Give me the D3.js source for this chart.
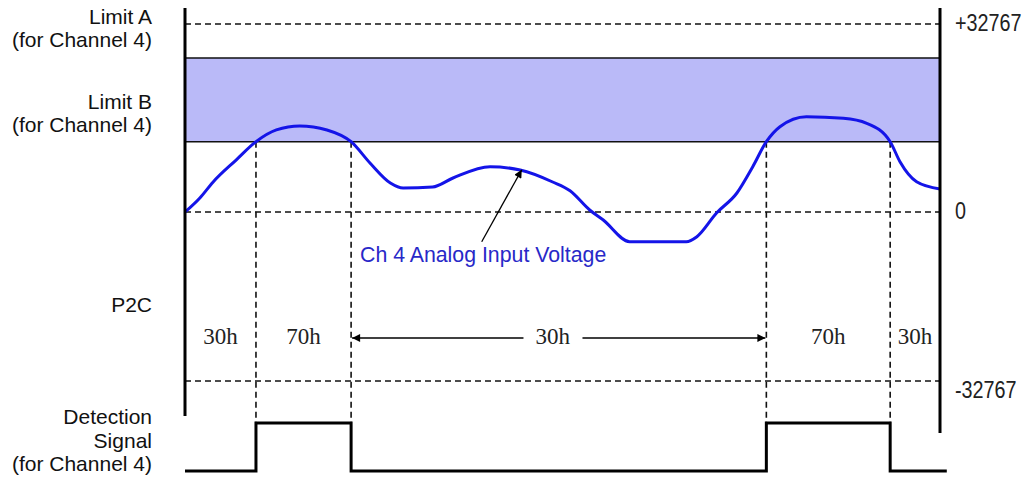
<!DOCTYPE html>
<html>
<head>
<meta charset="utf-8">
<script src="https://cdn.jsdelivr.net/npm/d3@7"></script>
<style>
  html, body { margin: 0; padding: 0; background: #fff; }
  svg { display: block; }
</style>
</head>
<body>
<svg id="chart" width="1031" height="479"></svg>
<script>
// Sample times (0–100, arbitrary units) and Ch 4 analog input readings
const timeSteps = [0, 2, 3.7, 6.8, 9.4, 12.1, 15.2, 18.8, 22.0, 24.5, 27.2, 28.9, 32.8, 35.5,
  40.4, 44.4, 48.7, 51.0, 53.6, 55.4, 58.9, 66.4, 67.8, 70.4, 73.1, 75.2, 77.0, 78.8,
  82.3, 87.2, 90.3, 93.4, 94.7, 96.9, 100];
const voltage = [0, 2500, 5200, 9100, 12250, 14300, 15000, 14300, 12250, 8540, 5055, 4183,
  4357, 5926, 7896, 7320, 5229, 3700, 349, -1551, -5759, -5759, -4789, -200, 3312, 7896,
  12250, 14868, 16610, 16331, 15460, 12250, 8767, 5281, 4009];

// Alarm limits for channel 4
const limitA = 26850;
const limitB = 12250;

// Times at which the input crosses Limit B
const crossings = [9.4, 22.0, 77.0, 93.4];

// P2C codes for each interval between crossings
const p2cCodes = ["30h", "70h", "30h", "70h", "30h"];

// Range reference values and their labels
const rangeValues = [32767, 0, -32767];
const rangeLabels = ["+32767", "0", "-32767"];

// Detection signal levels (0 = off, 1 = on) starting at each time
const signalTimes = [0, 9.4, 22.0, 77.0, 93.4, 100.9];
const signalLevels = [0, 1, 0, 1, 0, 0];

const svg = d3.select("#chart");

const x = d3.scaleLinear().domain([0, 100]).range([185, 940]);
const y = d3.scaleLinear().domain([-32767, 0, 32767]).range([381, 212, 24]);
const sig = d3.scaleLinear().domain([0, 1]).range([471, 423]);

const x0 = x(0), x1 = x(100);

// Marker definitions for arrowheads
const defs = svg.append("defs");
defs.append("marker")
  .attr("id", "head")
  .attr("viewBox", "0 0 10 10")
  .attr("refX", 10).attr("refY", 5)
  .attr("markerWidth", 10).attr("markerHeight", 8)
  .attr("markerUnits", "userSpaceOnUse")
  .attr("orient", "auto-start-reverse")
  .append("path").attr("d", "M0,0 L10,5 L0,10 Z").attr("fill", "#000");

// Limit band between Limit B and Limit A
svg.append("rect")
  .attr("x", x0).attr("y", y(limitA))
  .attr("width", x1 - x0).attr("height", y(limitB) - y(limitA))
  .attr("fill", "#babaf8");

// Dashed reference lines at +32767, 0 and -32767
svg.selectAll("line.ref")
  .data(rangeValues)
  .join("line")
  .attr("class", "ref")
  .attr("x1", x0).attr("x2", x1)
  .attr("y1", d => y(d)).attr("y2", d => y(d))
  .attr("stroke", "#111").attr("stroke-width", 1.6)
  .attr("stroke-dasharray", "6,4");

// Vertical dashed lines at each crossing of Limit B
svg.selectAll("line.cross")
  .data(crossings)
  .join("line")
  .attr("class", "cross")
  .attr("x1", d => x(d)).attr("x2", d => x(d))
  .attr("y1", y(limitB)).attr("y2", sig(1))
  .attr("stroke", "#111").attr("stroke-width", 1.6)
  .attr("stroke-dasharray", "6,4");

// Solid lines marking the two limits
svg.selectAll("line.limit")
  .data([limitA, limitB])
  .join("line")
  .attr("class", "limit")
  .attr("x1", x0).attr("x2", x1)
  .attr("y1", d => y(d)).attr("y2", d => y(d))
  .attr("stroke", "#111").attr("stroke-width", 1.5);

// Analog input voltage trace
const trace = timeSteps.map((t, i) => [t, voltage[i]]);
svg.append("path")
  .datum(trace)
  .attr("fill", "none")
  .attr("stroke", "#1414e8")
  .attr("stroke-width", 3)
  .attr("stroke-linejoin", "round")
  .attr("d", d3.line().x(d => x(d[0])).y(d => y(d[1])).curve(d3.curveMonotoneX));

// Vertical frame lines
svg.append("line")
  .attr("x1", x0).attr("x2", x0).attr("y1", 8).attr("y2", 416)
  .attr("stroke", "#000").attr("stroke-width", 3);
svg.append("line")
  .attr("x1", x1).attr("x2", x1).attr("y1", 8).attr("y2", 433)
  .attr("stroke", "#000").attr("stroke-width", 3);

// Detection signal square wave
const signal = signalTimes.map((t, i) => [t, signalLevels[i]]);
svg.append("path")
  .datum(signal)
  .attr("fill", "none")
  .attr("stroke", "#000")
  .attr("stroke-width", 3)
  .attr("d", d3.line().x(d => x(d[0])).y(d => sig(d[1])).curve(d3.curveStepAfter));

// Range labels on the right
svg.selectAll("text.range")
  .data(rangeValues)
  .join("text")
  .attr("class", "range")
  .attr("transform", d => `translate(955,${y(d) + (d < 0 ? 17 : 7)}) scale(0.9,1.05)`)
  .attr("font-family", "'Liberation Sans', Arial, sans-serif")
  .attr("font-size", 22)
  .attr("fill", "#222")
  .text((d, i) => rangeLabels[i]);

// Left-hand row labels
const leftFont = "'Liberation Sans', Arial, sans-serif";
function leftLabel(lines, baseline) {
  lines.forEach((s, i) => {
    svg.append("text")
      .attr("x", 152).attr("y", baseline + i * 23.5)
      .attr("text-anchor", "end")
      .attr("font-family", leftFont)
      .attr("font-size", 21)
      .attr("fill", "#111")
      .text(s);
  });
}
leftLabel(["Limit A", "(for Channel 4)"], y(limitA) - 34);
leftLabel(["Limit B", "(for Channel 4)"], y(limitB) - 33);
leftLabel(["P2C"], 312);
leftLabel(["Detection", "Signal", "(for Channel 4)"], (sig(0) + sig(1)) / 2 - 23);

// P2C codes for each interval
const bounds = [0, ...crossings, 100];
const codeY = 344;
const codeNodes = svg.selectAll("text.code")
  .data(p2cCodes)
  .join("text")
  .attr("class", "code")
  .attr("x", (d, i) => (x(bounds[i]) + x(bounds[i + 1])) / 2 - (i === 2 ? 6 : 0))
  .attr("y", codeY)
  .attr("text-anchor", "middle")
  .attr("font-family", "'Liberation Serif', 'Times New Roman', serif")
  .attr("font-size", 23)
  .attr("fill", "#222")
  .text(d => d);

// Double-headed arrow spanning the long 30h interval
const midNode = codeNodes.nodes()[2];
const bb = midNode.getBBox();
const arrowY = 338;
svg.append("line")
  .attr("x1", bb.x - 12).attr("x2", x(crossings[1]) + 1)
  .attr("y1", arrowY).attr("y2", arrowY)
  .attr("stroke", "#000").attr("stroke-width", 1.5)
  .attr("marker-end", "url(#head)");
svg.append("line")
  .attr("x1", bb.x + bb.width + 12).attr("x2", x(crossings[2]) - 1)
  .attr("y1", arrowY).attr("y2", arrowY)
  .attr("stroke", "#000").attr("stroke-width", 1.5)
  .attr("marker-end", "url(#head)");

// Annotation for the input trace
const tipT = 44.6;
const tipV = 7350;
svg.append("line")
  .attr("x1", x(39.3)).attr("y1", y(-5760))
  .attr("x2", x(tipT)).attr("y2", y(tipV))
  .attr("stroke", "#000").attr("stroke-width", 1.3)
  .attr("marker-end", "url(#head)");
svg.append("text")
  .attr("x", 360).attr("y", 262)
  .attr("font-family", leftFont)
  .attr("font-size", 21.3)
  .attr("fill", "#2828c8")
  .text("Ch 4 Analog Input Voltage");
</script>
</body>
</html>
